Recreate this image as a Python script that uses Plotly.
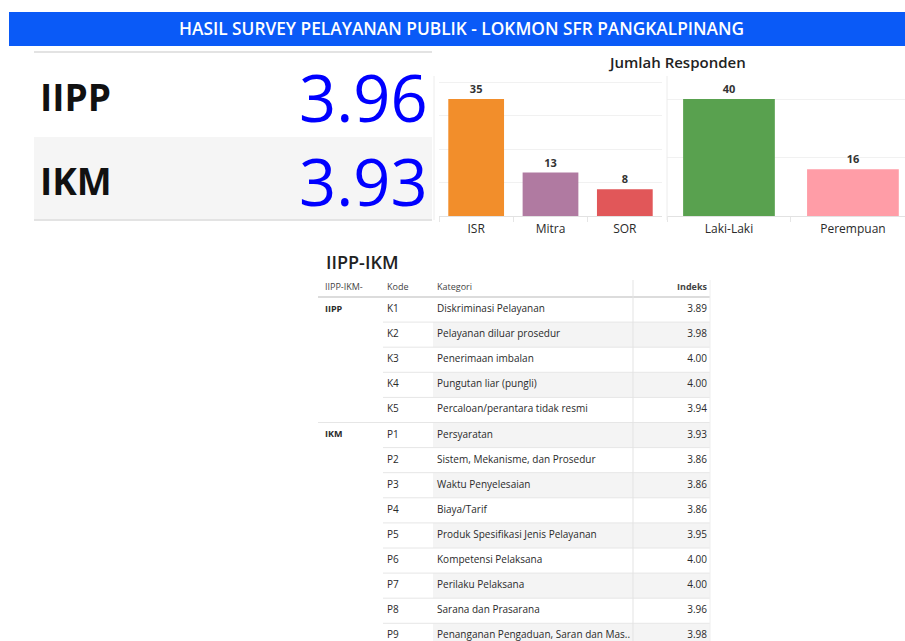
import plotly.graph_objects as go

# ---------------- data ----------------
title_text = "HASIL SURVEY PELAYANAN PUBLIK - LOKMON SFR PANGKALPINANG"
kpi_labels = ["IIPP", "IKM"]
kpi_values = [3.96, 3.93]

chart_title = "Jumlah Responden"
unit_cats = ["ISR", "Mitra", "SOR"]
unit_counts = [35, 13, 8]
unit_colors = ["#f28e2b", "#b07aa1", "#e15759"]

gender_cats = ["Laki-Laki", "Perempuan"]
gender_counts = [40, 16]
gender_colors = ["#59a14f", "#ff9da7"]

table_title = "IIPP-IKM"
table_headers = ["IIPP-IKM-", "Kode", "Kategori", "Indeks"]
groups = ["IIPP", "", "", "", "", "IKM", "", "", "", "", "", "", "", ""]
codes = ["K1", "K2", "K3", "K4", "K5", "P1", "P2", "P3", "P4", "P5", "P6", "P7", "P8", "P9"]
categories = [
    "Diskriminasi Pelayanan",
    "Pelayanan diluar prosedur",
    "Penerimaan imbalan",
    "Pungutan liar (pungli)",
    "Percaloan/perantara tidak resmi",
    "Persyaratan",
    "Sistem, Mekanisme, dan Prosedur",
    "Waktu Penyelesaian",
    "Biaya/Tarif",
    "Produk Spesifikasi Jenis Pelayanan",
    "Kompetensi Pelaksana",
    "Perilaku Pelaksana",
    "Sarana dan Prasarana",
    "Penanganan Pengaduan, Saran dan Mas..",
]
indexes = [3.89, 3.98, 4.00, 4.00, 3.94, 3.93, 3.86, 3.86, 3.86, 3.95, 4.00, 4.00, 3.96, 3.98]

# ---------------- layout helpers ----------------
W, H = 905, 641
FONT = "Open Sans"


def px(x):
    return x / W


def py(y):
    return 1 - y / H


fig = go.Figure()

# ---------------- bar charts ----------------
fig.add_trace(go.Bar(
    x=unit_cats, y=unit_counts, marker=dict(color=unit_colors, line=dict(width=0)),
    text=[f"<b>{v}</b>" for v in unit_counts], textposition="outside", cliponaxis=False,
    textfont=dict(family=FONT, size=11, color="#333333"),
    xaxis="x", yaxis="y", width=0.75, showlegend=False,
))
fig.add_trace(go.Bar(
    x=gender_cats, y=gender_counts, marker=dict(color=gender_colors, line=dict(width=0)),
    text=[f"<b>{v}</b>" for v in gender_counts], textposition="outside", cliponaxis=False,
    textfont=dict(family=FONT, size=11, color="#333333"),
    xaxis="x2", yaxis="y2", width=0.74, showlegend=False,
))

# ---------------- table ----------------
ROW_TOP = 297      # pixel of header bottom line
ROW_H = 25.1
TBL_TOP, TBL_BOT = 280, 641
TBL_L, TBL_R = 318, 712
u_top = (TBL_TOP - ROW_TOP) / ROW_H
u_bot = (TBL_BOT - ROW_TOP) / ROW_H
n = len(codes)
row_c = [i + 0.5 for i in range(n)]
hdr_c = (288 - ROW_TOP) / ROW_H

COL_GRP, COL_KODE, COL_KAT, COL_IDX = 325, 387, 437, 707
SHADE_L, LINE_KODE_L, LINE_R, VLINE = 433, 383, 710, 633

txt_font = dict(family=FONT, size=10, color="#2a2a2a")
fig.add_trace(go.Scatter(
    x=[COL_GRP] * n, y=row_c, text=[f"<b>{g}</b>" if g else "" for g in groups],
    mode="text", textposition="middle right", textfont=dict(family=FONT, size=9, color="#2a2a2a"),
    xaxis="x3", yaxis="y3", showlegend=False, hoverinfo="skip", cliponaxis=False))
fig.add_trace(go.Scatter(
    x=[COL_KODE] * n, y=row_c, text=codes, mode="text", textposition="middle right",
    textfont=txt_font, xaxis="x3", yaxis="y3", showlegend=False, hoverinfo="skip", cliponaxis=False))
fig.add_trace(go.Scatter(
    x=[COL_KAT] * n, y=row_c, text=categories, mode="text", textposition="middle right",
    textfont=txt_font, xaxis="x3", yaxis="y3", showlegend=False, hoverinfo="skip", cliponaxis=False))
fig.add_trace(go.Scatter(
    x=[COL_IDX] * n, y=row_c, text=[f"{v:.2f}" for v in indexes], mode="text",
    textposition="middle left", textfont=txt_font,
    xaxis="x3", yaxis="y3", showlegend=False, hoverinfo="skip", cliponaxis=False))
# header
hdr_x = [COL_GRP, COL_KODE, COL_KAT, COL_IDX]
hdr_txt = table_headers[:3] + [f"<b>{table_headers[3]}</b>"]
hdr_pos = ["middle right", "middle right", "middle right", "middle left"]
fig.add_trace(go.Scatter(
    x=hdr_x, y=[hdr_c] * 4, text=hdr_txt, mode="text", textposition=hdr_pos,
    textfont=dict(family=FONT, size=9, color="#444444"),
    xaxis="x3", yaxis="y3", showlegend=False, hoverinfo="skip", cliponaxis=False))

shapes = []
# banded rows
for i in range(n):
    if i % 2 == 1:
        shapes.append(dict(type="rect", xref="x3", yref="y3", x0=SHADE_L, x1=LINE_R,
                           y0=i, y1=i + 1, fillcolor="#f4f4f4", line=dict(width=0), layer="below"))
# row separators
for i in range(1, n):
    x0 = TBL_L if groups[i] else LINE_KODE_L
    shapes.append(dict(type="line", xref="x3", yref="y3", x0=x0, x1=LINE_R, y0=i, y1=i,
                       line=dict(color="#e6e6e6", width=1)))
shapes.append(dict(type="line", xref="x3", yref="y3", x0=TBL_L, x1=LINE_R, y0=0, y1=0,
                   line=dict(color="#dcdcdc", width=2)))
shapes.append(dict(type="line", xref="x3", yref="y3", x0=VLINE, x1=VLINE, y0=u_top, y1=u_bot,
                   line=dict(color="#e3e3e3", width=1)))
shapes.append(dict(type="line", xref="x3", yref="y3", x0=LINE_R, x1=LINE_R, y0=u_top, y1=u_bot,
                   line=dict(color="#eeeeee", width=1)))

# banner
shapes.append(dict(type="rect", xref="paper", yref="paper", x0=px(9), x1=1, y0=py(46), y1=py(12),
                   fillcolor="#0a5af7", line=dict(width=0)))
# KPI panel
shapes.append(dict(type="rect", xref="paper", yref="paper", x0=px(34), x1=px(432), y0=py(220), y1=py(137),
                   fillcolor="#f5f5f5", line=dict(width=0), layer="below"))
shapes.append(dict(type="line", xref="paper", yref="paper", x0=px(34), x1=px(432), y0=py(52), y1=py(52),
                   line=dict(color="#e3e3e3", width=2)))
shapes.append(dict(type="line", xref="paper", yref="paper", x0=px(34), x1=px(432), y0=py(220), y1=py(220),
                   line=dict(color="#e3e3e3", width=2)))
# chart separators
for xs in (434, 667):
    shapes.append(dict(type="line", xref="paper", yref="paper", x0=px(xs), x1=px(xs), y0=py(220), y1=py(76),
                       line=dict(color="#ececec", width=1)))

annotations = [
    dict(text=title_text, x=px(462), y=py(29), xref="paper", yref="paper", showarrow=False,
         font=dict(family=FONT, size=17.3, color="white", weight=600), xanchor="center", yanchor="middle"),
    dict(text=chart_title, x=px(677), y=py(62), xref="paper", yref="paper", showarrow=False,
         font=dict(family=FONT, size=15, color="#222222", weight=600), xanchor="center", yanchor="middle"),
    dict(text=table_title, x=px(324), y=py(262), xref="paper", yref="paper", showarrow=False,
         font=dict(family=FONT, size=18, color="#222222", weight=600), xanchor="left", yanchor="middle"),
]
kpi_y = [97, 181]
for lab, val, yy in zip(kpi_labels, kpi_values, kpi_y):
    annotations.append(dict(text=f"<b>{lab}</b>", x=px(38), y=py(yy), xref="paper", yref="paper",
                            showarrow=False, font=dict(family=FONT, size=37, color="#111111"),
                            xanchor="left", yanchor="middle"))
    annotations.append(dict(text=f"{val:.2f}", x=px(430), y=py(yy), xref="paper", yref="paper",
                            showarrow=False, font=dict(family=FONT, size=65, color="#0000ff"),
                            xanchor="right", yanchor="middle"))

BASE, TOP = 216, 78
bar_axis_common = dict(showgrid=False, zeroline=False, showline=False, fixedrange=True,
                       tickfont=dict(family=FONT, size=12, color="#2a2a2a"),
                       ticks="outside", tickson="boundaries", ticklen=5, tickcolor="#e6e6e6",
                       ticklabelstandoff=4)
yax_common = dict(showticklabels=False, showgrid=True, gridcolor="#f1f1f1", zeroline=True,
                  zerolinecolor="#e2e2e2", zerolinewidth=1, fixedrange=True)

fig.update_layout(
    width=W, height=H, margin=dict(l=0, r=0, t=0, b=0),
    paper_bgcolor="white", plot_bgcolor="rgba(0,0,0,0)",
    font=dict(family=FONT, color="#333333"),
    xaxis=dict(domain=[px(439), px(662)], range=[-0.5, 2.5], **bar_axis_common),
    yaxis=dict(domain=[py(BASE), py(TOP)], range=[0, (BASE - TOP) / (117 / 35)], dtick=10, **yax_common),
    xaxis2=dict(domain=[px(667), 1], range=[-0.5, 1.42], **bar_axis_common),
    yaxis2=dict(domain=[py(BASE), py(TOP)], range=[0, (BASE - TOP) / (117 / 40)], dtick=20, **yax_common),
    xaxis3=dict(domain=[px(TBL_L), px(TBL_R)], range=[TBL_L, TBL_R], visible=False, fixedrange=True),
    yaxis3=dict(domain=[0, py(TBL_TOP)], range=[u_bot, u_top], visible=False, fixedrange=True),
    shapes=shapes, annotations=annotations, showlegend=False,
)

fig.write_html(
    "out.html",
    config={"displayModeBar": False},
    post_script="document.body.style.margin='0px';document.body.style.overflow='hidden';",
)
